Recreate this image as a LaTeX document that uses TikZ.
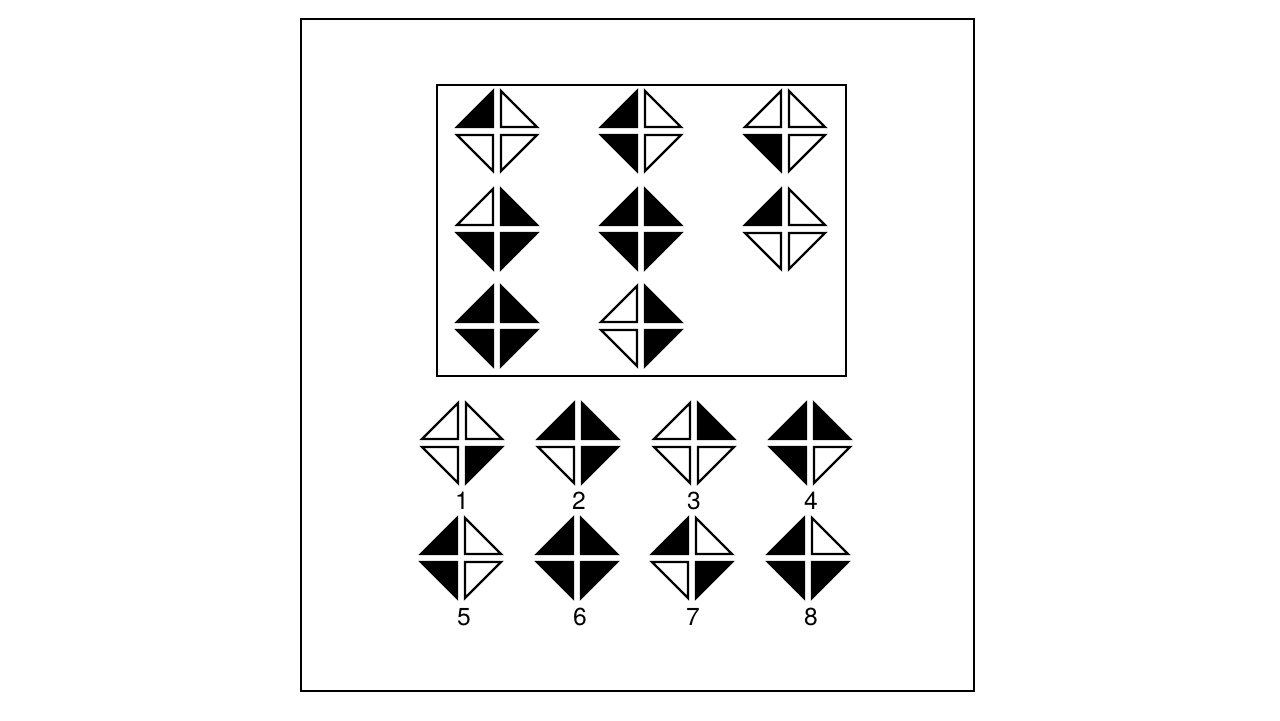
\documentclass[tikz,border=0pt]{standalone}
\usepackage{fontspec}
\setmainfont{TeX Gyre Heros}
\usetikzlibrary{positioning}

\begin{document}
\begin{tikzpicture}[
    x=0.02cm, y=-0.02cm,
    frame/.style={draw, line width=0.9pt},
    board/.style={draw, line width=1.4pt},
    tri/.style={draw, line width=1.3pt, line join=miter},
    lbl/.style={font=\fontsize{14}{16}\selectfont, inner sep=0pt},
    pics/kite/.style n args={4}{code={
        \filldraw[tri, fill=#1] (-4,-4) -- (-40,-4) -- (-4,-40) -- cycle;
        \filldraw[tri, fill=#2] (4,-4) -- (40,-4) -- (4,-40) -- cycle;
        \filldraw[tri, fill=#3] (-4,4) -- (-40,4) -- (-4,40) -- cycle;
        \filldraw[tri, fill=#4] (4,4) -- (40,4) -- (4,40) -- cycle;
    }}
]
\useasboundingbox (0,0) rectangle (1280,720);

\draw[frame] (301,19) rectangle (974,691);
\draw[board] (437,85) rectangle (846,376);

\pic at (497,131) {kite={black}{white}{white}{white}};
\pic at (641,131) {kite={black}{white}{black}{white}};
\pic at (785,131) {kite={white}{white}{black}{white}};
\pic at (497,229) {kite={white}{black}{black}{black}};
\pic at (641,229) {kite={black}{black}{black}{black}};
\pic at (785,229) {kite={black}{white}{white}{white}};
\pic at (497,326) {kite={black}{black}{black}{black}};
\pic at (641,326) {kite={white}{black}{white}{black}};

\pic at (462,443) {kite={white}{white}{white}{black}};
\pic at (578,443) {kite={black}{black}{white}{black}};
\pic at (694,443) {kite={white}{black}{white}{white}};
\pic at (810,443) {kite={black}{black}{black}{white}};
\pic at (461,558) {kite={black}{white}{black}{white}};
\pic at (577,558) {kite={black}{black}{black}{black}};
\pic at (692,558) {kite={black}{white}{white}{black}};
\pic at (808,558) {kite={black}{white}{black}{black}};

\node[lbl] (o1) at (462,501) {1};
\node[lbl] (o2) at (579,501) {2};
\node[lbl] (o3) at (694,501) {3};
\node[lbl] (o4) at (811,501) {4};
\node[lbl] (o5) at (464,617) {5};
\node[lbl] (o6) at (580,617) {6};
\node[lbl] (o7) at (693,617) {7};
\node[lbl] (o8) at (811,617) {8};

\end{tikzpicture}
\end{document}
